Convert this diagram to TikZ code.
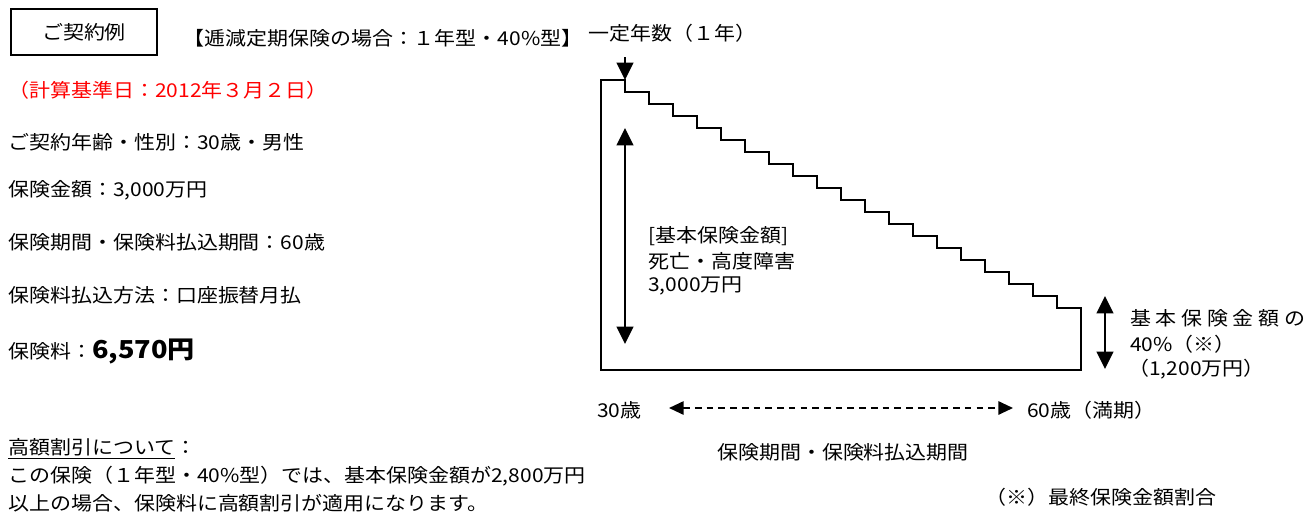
\documentclass[tikz,border=0pt]{standalone}
\usepackage{fontspec}
\setmainfont{Noto Sans CJK JP}[FakeStretch=1.1]
\usetikzlibrary{arrows.meta}
\definecolor{calcred}{RGB}{255,0,0}
\tikzset{
	txt/.style={anchor=west, inner sep=0pt, font=\fontsize{14.3}{17}\selectfont},
	stair/.style={line width=1.5pt, line join=miter},
	dimline/.style={line width=1.5pt, {Triangle[length=13pt,width=12.5pt]}-{Triangle[length=13pt,width=12.5pt]}},
	pointer/.style={line width=1.5pt, -{Triangle[length=13pt,width=12.5pt]}},
	periodline/.style={line width=1.4pt, dash pattern=on 5pt off 3.8pt, {Triangle[length=11pt,width=10pt]}-{Triangle[length=11pt,width=10pt]}}
}
\begin{document}
\begin{tikzpicture}[x=0.75pt,y=-0.75pt]
						\useasboundingbox (0,0) rectangle (1310,511);
						\node[draw, line width=1.5pt, minimum width=109.5pt, minimum height=34.5pt, font=\fontsize{14.3}{17}\selectfont] (title) at (84,32) {ご契約例};
						\node[txt] (case) at (183,38) {【逓減定期保険の場合：１年型・40\%型】};
						\node[txt] (yearlbl) at (588,33) {一定年数（１年）};
						\node[txt, text=calcred] (calcdate) at (8,90) {（計算基準日：2012年３月２日）};
						\node[txt] (age) at (8,142) {ご契約年齢・性別：30歳・男性};
						\node[txt] (amount) at (8,190) {保険金額：3,000万円};
						\node[txt] (term) at (8,242) {保険期間・保険料払込期間：60歳};
						\node[txt] (method) at (8,295) {保険料払込方法：口座振替月払};
						\node[txt] (premium) at (8,352) {保険料：{\fontsize{18.5}{20}\selectfont\bfseries 6,570円}};
						\node[txt] (dischead) at (8,449) {\underline{高額割引について}：};
						\node[txt] (discone) at (8,476) {この保険（１年型・40\%型）では、基本保険金額が2,800万円};
						\node[txt] (disctwo) at (8,503) {以上の場合、保険料に高額割引が適用になります。};

						\draw[stair] (601,370) -- (601,80) -- (625,80)
							\foreach \k in {0,...,18} { -- ++(0,12) -- ++(24,0) }
							-- (1081,370) -- cycle;

						\coordinate (yeartail) at (625,57);
						\coordinate (yeartip) at (625,80);
						\draw[pointer] (yeartail) -- (yeartip);

						\coordinate (basetop) at (625,128);
						\coordinate (basebot) at (625,344);
						\draw[dimline] (basetop) -- (basebot);
						\node[txt] (basehead) at (648,236) {[基本保険金額]};
						\node[txt] (basecase) at (648,261) {死亡・高度障害};
						\node[txt] (baseamt) at (648,286) {3,000万円};

						\coordinate (finaltop) at (1105,296);
						\coordinate (finalbot) at (1105,369);
						\draw[dimline] (finaltop) -- (finalbot);
						\node[txt] (finalone) at (1130,318) {基 本 保 険 金 額 の};
						\node[txt] (finaltwo) at (1130,344) {40\%（※）};
						\node[txt] (finalthree) at (1128,369) {（1,200万円）};

						\node[txt] (agestart) at (597,410) {30歳};
						\node[txt] (ageend) at (1027,410) {60歳（満期）};
						\coordinate (periodstart) at (669,408);
						\coordinate (periodend) at (1013,408);
						\draw[periodline] (periodstart) -- (periodend);
						\node[font=\fontsize{14.3}{17}\selectfont, inner sep=0pt] (periodlbl) at (843,452) {保険期間・保険料払込期間};
						\node[txt] (note) at (985,497) {（※）最終保険金額割合};
\end{tikzpicture}
\end{document}
